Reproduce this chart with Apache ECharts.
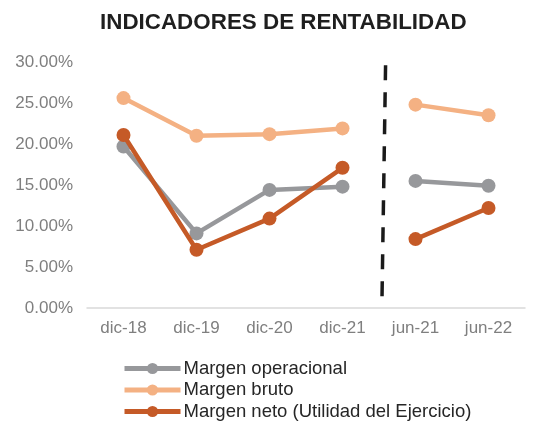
<!DOCTYPE html>
<html><head><meta charset="utf-8">
<script src="https://cdn.jsdelivr.net/npm/echarts@6/dist/echarts.min.js"></script>
<style>html,body{margin:0;padding:0;background:#fff}#c{width:558px;height:423px}</style>
</head><body><div id="c"></div>
<script>
const categories = ['dic-18','dic-19','dic-20','dic-21','jun-21','jun-22'];
const margenOperacional = [19.7, 9.1, 14.4, 14.8, 15.5, 14.9];
const margenBruto = [25.6, 21.0, 21.2, 21.9, 24.8, 23.5];
const margenNeto = [21.1, 7.1, 10.9, 17.1, 8.4, 12.2];
const yTicks = [0, 5, 10, 15, 20, 25, 30];
const dividerX = [4.09, 4.04];
const dividerY = [29.6, 0.6];
const splitIndex = 4; // annual (dic) vs semester (jun) break

const names = ['Margen operacional','Margen bruto','Margen neto (Utilidad del Ejercicio)'];
const colors = ['#97989B','#F4B183','#C55A27'];
const values = [margenOperacional, margenBruto, margenNeto];

const series = [];
values.forEach((vals, i) => {
  const a = vals.map((v, k) => k < splitIndex ? v : null);
  const b = vals.map((v, k) => k >= splitIndex ? v : null);
  [a, b].forEach(d => series.push({
    name: names[i], type: 'line', data: d,
    symbol: 'circle', symbolSize: 14,
    lineStyle: { width: 4.5, color: colors[i] },
    itemStyle: { color: colors[i] },
    z: 3 + i,
    connectNulls: false
  }));
});
series.push({
  name: 'divider', type: 'line', xAxisIndex: 1,
  data: dividerX.map((x, k) => [x, dividerY[k]]),
  symbol: 'none', silent: true,
  lineStyle: { color: '#1a1a1a', width: 3.5, type: [15, 12] }, z: 2
});

const chart = echarts.init(document.getElementById('c'), null, { renderer: 'canvas' });
chart.setOption({
  animation: false,
  backgroundColor: '#fff',
  title: { text: 'INDICADORES DE RENTABILIDAD', left: 95, top: 7,
    textStyle: { fontFamily: 'Liberation Sans, Arial, sans-serif', fontSize: 22.4, fontWeight: 'bold', color: '#1f1f1f' } },
  grid: { left: 87, right: 33, top: 62, bottom: 115 },
  xAxis: [{
    type: 'category', data: categories, boundaryGap: true,
    axisLine: { lineStyle: { color: '#D9D9D9', width: 1.5 } },
    axisTick: { show: false },
    axisLabel: { color: '#7F7F7F', fontSize: 17, fontFamily: 'Liberation Sans, Arial, sans-serif', margin: 12 }
  }, {
    type: 'value', min: 0, max: 6, show: false
  }],
  yAxis: {
    type: 'value', min: yTicks[0], max: yTicks[yTicks.length - 1], interval: 5,
    axisLine: { show: false }, axisTick: { show: false }, splitLine: { show: false },
    axisLabel: { color: '#7F7F7F', fontSize: 17, fontFamily: 'Liberation Sans, Arial, sans-serif', margin: 14,
      formatter: v => v.toFixed(2) + '%' }
  },
  legend: {
    data: names, orient: 'vertical', left: 117, top: 359, height: 66, width: 430,
    padding: [0, 5], itemWidth: 56, itemHeight: 14, itemGap: 2.5,
    lineStyle: { width: 5 },
    textStyle: { color: '#262626', fontSize: 18.5, lineHeight: 18, fontFamily: 'Liberation Sans, Arial, sans-serif', padding: [0, 0, 0, -2] }
  },
  series: series
});
</script></body></html>
